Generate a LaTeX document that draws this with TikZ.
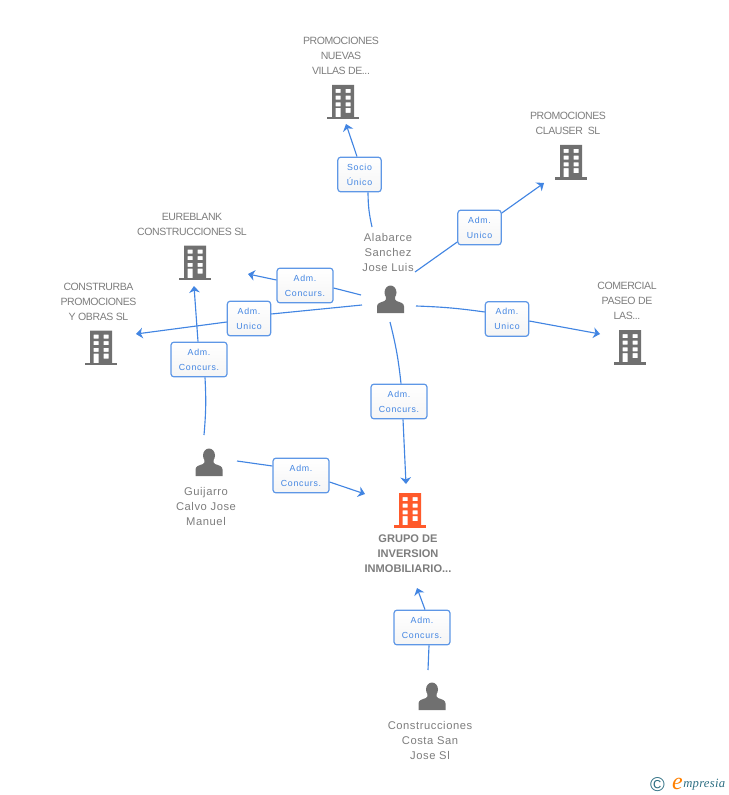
\documentclass[tikz,border=0pt]{standalone}
\usepackage{fontspec}
\setmainfont{Liberation Sans}
\newfontfamily\boxfont[LetterSpace=8]{Liberation Sans}
\newfontfamily\labelfont[LetterSpace=-4]{Liberation Sans}
\newfontfamily\peoplefont[LetterSpace=5]{Liberation Sans}
\newfontfamily\markfont[LetterSpace=2]{Liberation Serif}
\usetikzlibrary{arrows.meta, positioning, calc}
\definecolor{linkcolor}{RGB}{66, 133, 226}
\definecolor{iconcolor}{RGB}{112, 112, 112}
\definecolor{labelcolor}{RGB}{125, 125, 125}
\definecolor{maincolor}{RGB}{255, 90, 43}
\definecolor{markcolor}{RGB}{45, 110, 130}
\tikzset{
    linkbox/.style={draw=linkcolor!85!white, line width=0.9pt, rounded corners=2.2pt, top color=white, bottom color=black!4,
        minimum width=#1, minimum height=26pt, inner sep=0pt, align=center, text=linkcolor,
        font=\fontsize{6.6}{11.2}\selectfont\boxfont},
    linkbox/.default=42pt,
    wide/.style={linkbox=42pt},
    narrow/.style={linkbox=32.5pt},
    link/.style={draw=linkcolor, line width=0.85pt},
    linkarrow/.style={link, -{Stealth[length=5pt, width=8pt, inset=1.5pt]}},
    name label/.style={align=center, text=labelcolor, inner sep=0pt, font=\fontsize{7.9}{11.25}\selectfont\labelfont},
    people label/.style={name label, font=\fontsize{8.4}{11.25}\selectfont\peoplefont},
    pics/building/.style={code={
        \fill[#1, even odd rule] (-11,-17) rectangle (11,15.5)
            (-7.3,-13) rectangle (-2.3,-9) (2.7,-13) rectangle (7.7,-9)
            (-7.3,-6.3) rectangle (-2.3,-2.3) (2.7,-6.3) rectangle (7.7,-2.3)
            (-7.3,0.3) rectangle (-2.3,4.3) (2.7,0.3) rectangle (7.7,4.3)
            (-7.3,6) rectangle (-2.3,15.5) (2.7,6) rectangle (7.7,11);
        \fill[#1] (-16,15) rectangle (16,17.5);
    }},
    pics/person/.style={code={
        \fill[iconcolor] (0,-7.5) ellipse (6 and 7);
        \fill[iconcolor] (-13.5,13) -- (-13.5,6.5) .. controls (-13.5,3) and (-10,2.5) .. (-6,1)
            .. controls (-4.5,0.3) and (-4.5,-1) .. (-4.5,-3) -- (4.5,-3)
            .. controls (4.5,-1) and (4.5,0.3) .. (6,1) .. controls (10,2.5) and (13.5,3) .. (13.5,6.5) -- (13.5,13) -- cycle;
    }},
}
\begin{document}
\begin{tikzpicture}[x=0.75pt, y=-0.75pt]
\useasboundingbox (0,0) rectangle (728,795);
% buildings
\foreach \x/\y/\c in {343/102/iconcolor, 571/162/iconcolor, 195/262.5/iconcolor, 101/347.5/iconcolor, 630/347/iconcolor, 410/510/maincolor} {
    \pic at (\x,\y) {building={\c}};
}
% people
\foreach \x/\y in {390.5/300, 209/463, 432/697} {
    \pic at (\x,\y) {person};
}
% labels
\node[name label] (nuevas) at (341,56) {PROMOCIONES\\NUEVAS\\VILLAS DE...};
\node[name label] (clauser) at (568,123.5) {PROMOCIONES\\CLAUSER\ \ SL};
\node[name label] (eureblank) at (192,224.5) {EUREBLANK\\CONSTRUCCIONES SL};
\node[name label] (construrba) at (98.5,302) {CONSTRURBA\\PROMOCIONES\\Y OBRAS SL};
\node[name label] (comercial) at (627,301) {COMERCIAL\\PASEO DE\\LAS...};
\node[people label] (alabarce) at (388,252) {Alabarce\\Sanchez\\Jose Luis};
\node[people label] (guijarro) at (206,506) {Guijarro\\Calvo Jose\\Manuel};
\node[name label, font=\fontsize{8.3}{11.25}\selectfont\bfseries] (grupo) at (408,553.5) {GRUPO DE\\INVERSION\\INMOBILIARIO...};
\node[people label] (costa) at (430,740) {Construcciones\\Costa San\\Jose Sl};
% boxes
\node[narrow] (bNuevas) at (359.5,174.5) {Socio\\Único};
\node[narrow] (bClauser) at (479.5,227.5) {Adm.\\Unico};
\node[wide] (bEureblank) at (305,285.5) {Adm.\\Concurs.};
\node[narrow] (bConstrurba) at (249,318.5) {Adm.\\Unico};
\node[narrow] (bComercial) at (507,319) {Adm.\\Unico};
\node[wide] (bGuijarro) at (199,359.5) {Adm.\\Concurs.};
\node[wide] (bGrupo) at (399,401.5) {Adm.\\Concurs.};
\node[wide] (bGuijarroGrupo) at (301,475.5) {Adm.\\Concurs.};
\node[wide] (bCosta) at (422,627.5) {Adm.\\Concurs.};
% free ends
\coordinate (aNuevas) at (372,227);
\coordinate (tNuevas) at (346,124);
\coordinate (aClauser) at (415,272);
\coordinate (tClauser) at (544,183);
\coordinate (aEureblank) at (361,295);
\coordinate (tEureblank) at (248,274);
\coordinate (aConstrurba) at (362,305);
\coordinate (tConstrurba) at (136,334);
\coordinate (aComercial) at (416,306);
\coordinate (tComercial) at (600,334);
\coordinate (aGrupo) at (390,322);
\coordinate (tGrupo) at (406,484);
\coordinate (gEureblank) at (204,435);
\coordinate (tGuiEure) at (194,286);
\coordinate (gGrupo) at (237,461);
\coordinate (tGuiGrupo) at (365,494);
\coordinate (cGrupo) at (428,670);
\coordinate (tCosta) at (417,588);
% connectors
\draw[link] (aNuevas) to[bend left=6] (bNuevas.south -| 368,0);
\draw[linkarrow] (bNuevas.north -| 357,0) -- (tNuevas);
\draw[link] (aClauser) -- (bClauser.west |- 0,242);
\draw[linkarrow] (bClauser.east |- 0,213) -- (tClauser);
\draw[link] (aEureblank) -- (bEureblank.east |- 0,288);
\draw[linkarrow] (bEureblank.west |- 0,280) -- (tEureblank);
\draw[link] (aConstrurba) -- (bConstrurba.east |- 0,314);
\draw[linkarrow] (bConstrurba.west |- 0,322) -- (tConstrurba);
\draw[link] (aComercial) to[bend left=3] (bComercial.west |- 0,312);
\draw[linkarrow] (bComercial.east |- 0,321) -- (tComercial);
\draw[link] (aGrupo) to[bend left=4] (bGrupo.north -| 401,0);
\draw[linkarrow] (bGrupo.south -| 403,0) -- (tGrupo);
\draw[link] (gEureblank) to[bend right=4] (bGuijarro.south -| 205,0);
\draw[linkarrow] (bGuijarro.north -| 198,0) -- (tGuiEure);
\draw[link] (gGrupo) -- (bGuijarroGrupo.west |- 0,466);
\draw[linkarrow] (bGuijarroGrupo.east |- 0,482) -- (tGuiGrupo);
\draw[link] (cGrupo) -- (bCosta.south -| 429,0);
\draw[linkarrow] (bCosta.north -| 425,0) -- (tCosta);
% mark
\node[inner sep=0pt, text=markcolor, font=\fontsize{15}{15}\selectfont] (copymark) at (657.5,784.5) {©};
\node[inner sep=0pt, text=orange, font=\fontsize{18}{18}\selectfont\markfont\itshape] (emark) at (677.5,783.5) {e};
\node[inner sep=0pt, anchor=west, text=markcolor, font=\fontsize{9.5}{9.5}\selectfont\markfont\itshape] (wordmark) at (683,785) {mpresia};
\end{tikzpicture}
\end{document}
